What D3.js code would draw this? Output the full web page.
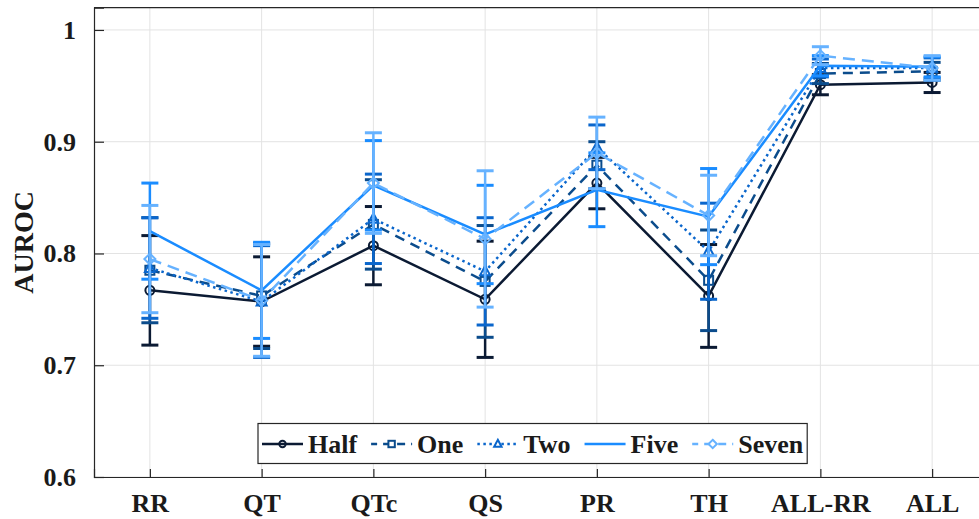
<!DOCTYPE html>
<html lang="en">

<head>
    <meta charset="UTF-8">
    <title>AUROC per feature</title>
    <script src="https://d3js.org/d3.v7.min.js"></script>
    <style>
        body {
            margin: 0;
            background: #fff;
        }

        text {
            font-family: "Liberation Serif", "Times New Roman", serif;
            font-weight: bold;
            fill: #1a1a1a;
        }
    </style>
</head>

<body>
    <div id="chart"></div>

    <script>
        const width = 979;
        const height = 519;
        const marginTop = 7.6;
        const marginBottom = 42;
        const marginLeft = 94;

        // data
        const categories = ["RR", "QT", "QTc", "QS", "PR", "TH", "ALL-RR", "ALL"];
        const yTicks = [0.6, 0.7, 0.8, 0.9, 1];
        const seriesNames = ["Half", "One", "Two", "Five", "Seven"];

        const halfMean = [0.767, 0.757, 0.807, 0.759, 0.863, 0.762, 0.951, 0.953];
        const halfErr = [0.049, 0.040, 0.035, 0.052, 0.023, 0.046, 0.009, 0.009];
        const oneMean = [0.785, 0.762, 0.826, 0.775, 0.879, 0.776, 0.961, 0.963];
        const oneErr = [0.047, 0.047, 0.040, 0.050, 0.021, 0.045, 0.009, 0.008];
        const twoMean = [0.787, 0.757, 0.831, 0.784, 0.895, 0.802, 0.966, 0.966];
        const twoErr = [0.045, 0.050, 0.040, 0.048, 0.020, 0.043, 0.008, 0.009];
        const fiveMean = [0.820, 0.767, 0.861, 0.817, 0.857, 0.833, 0.968, 0.967];
        const fiveErr = [0.043, 0.043, 0.040, 0.044, 0.033, 0.043, 0.009, 0.009];
        const sevenMean = [0.795, 0.758, 0.863, 0.813, 0.890, 0.834, 0.977, 0.966];
        const sevenErr = [0.048, 0.050, 0.045, 0.061, 0.032, 0.036, 0.008, 0.011];

        const series = [
            { name: seriesNames[0], mean: halfMean, err: halfErr, color: "#0b1a33", dash: null, marker: "circle" },
            { name: seriesNames[1], mean: oneMean, err: oneErr, color: "#0b4c8c", dash: "10,7", marker: "square" },
            { name: seriesNames[2], mean: twoMean, err: twoErr, color: "#0a66cc", dash: "2.5,3.5", marker: "triangle" },
            { name: seriesNames[3], mean: fiveMean, err: fiveErr, color: "#1a8cff", dash: null, marker: "none" },
            { name: seriesNames[4], mean: sevenMean, err: sevenErr, color: "#66b2ff", dash: "12,7", marker: "diamond" }
        ];

        const x = d3.scaleLinear()
            .domain([0.5, categories.length + 0.5])
            .range([marginLeft, 988]);

        const y = d3.scaleLinear()
            .domain([0.6, 1.02])
            .range([height - marginBottom, marginTop]);

        const svg = d3.select("#chart")
            .append("svg")
            .attr("width", width)
            .attr("height", height);

        // grid
        svg.append("g")
            .selectAll("line")
            .data(yTicks)
            .join("line")
            .attr("x1", x.range()[0]).attr("x2", x.range()[1])
            .attr("y1", d => y(d)).attr("y2", d => y(d))
            .attr("stroke", "#e3e3e3").attr("stroke-width", 1);

        svg.append("g")
            .selectAll("line")
            .data(categories)
            .join("line")
            .attr("x1", (d, i) => x(i + 1)).attr("x2", (d, i) => x(i + 1))
            .attr("y1", y.range()[0]).attr("y2", y.range()[1])
            .attr("stroke", "#e3e3e3").attr("stroke-width", 1);

        // axes
        const yAxis = d3.axisLeft(y)
            .tickValues(yTicks)
            .tickSize(-10)
            .tickPadding(18)
            .tickFormat(d => d === 1 ? "1" : d3.format(".1f")(d));

        const xAxis = d3.axisBottom(x)
            .tickValues(d3.range(1, categories.length + 1))
            .tickSize(-8)
            .tickPadding(17)
            .tickFormat(d => categories[d - 1]);

        const gx = svg.append("g")
            .attr("transform", `translate(0,${height - marginBottom})`)
            .call(xAxis);

        const gy = svg.append("g")
            .attr("transform", `translate(${marginLeft},0)`)
            .call(yAxis);

        [gx, gy].forEach(g => {
            g.select(".domain").attr("stroke", "#262626").attr("stroke-width", 1.2);
            g.selectAll(".tick line").attr("stroke", "#262626").attr("stroke-width", 1.2);
            g.selectAll(".tick text")
                .attr("font-size", 26)
                .attr("font-family", "Liberation Serif, serif")
                .attr("font-weight", "bold")
                .attr("fill", "#262626");
        });

        // top border
        svg.append("line")
            .attr("x1", marginLeft).attr("x2", width)
            .attr("y1", y.range()[1]).attr("y2", y.range()[1])
            .attr("stroke", "#262626").attr("stroke-width", 1.2);

        svg.append("text")
            .attr("transform", `translate(33,${(y(0.6) + y(1.02)) / 2}) rotate(-90)`)
            .attr("text-anchor", "middle")
            .attr("font-size", 28)
            .text("AUROC");

        function drawMarker(g, type, cx, cy, color, s, fill) {
            let el = null;
            if (type === "circle") {
                el = g.append("circle").attr("cx", cx).attr("cy", cy).attr("r", s);
            } else if (type === "square") {
                el = g.append("rect").attr("x", cx - s).attr("y", cy - s).attr("width", 2 * s).attr("height", 2 * s);
            } else if (type === "triangle") {
                el = g.append("path")
                    .attr("d", `M${cx},${cy - s - 1}L${cx + s + 0.5},${cy + s - 0.5}L${cx - s - 0.5},${cy + s - 0.5}Z`);
            } else if (type === "diamond") {
                el = g.append("path")
                    .attr("d", `M${cx},${cy - s - 1}L${cx + s + 1},${cy}L${cx},${cy + s + 1}L${cx - s - 1},${cy}Z`);
            }
            if (el) el.attr("fill", fill).attr("stroke", color).attr("stroke-width", 2);
        }

        const line = d3.line()
            .x((d, i) => x(i + 1))
            .y(d => y(d));

        const capHalf = 8.5;

        series.forEach(s => {
            const g = svg.append("g");
            g.append("path")
                .datum(s.mean)
                .attr("d", line)
                .attr("fill", "none")
                .attr("stroke", s.color)
                .attr("stroke-width", 2.5)
                .attr("stroke-dasharray", s.dash);

            s.mean.forEach((m, i) => {
                const cx = x(i + 1);
                const lo = y(m - s.err[i]);
                const hi = y(m + s.err[i]);
                g.append("line")
                    .attr("x1", cx).attr("x2", cx).attr("y1", lo).attr("y2", hi)
                    .attr("stroke", s.color).attr("stroke-width", 2.5);
                [lo, hi].forEach(yy => {
                    g.append("line")
                        .attr("x1", cx - capHalf).attr("x2", cx + capHalf)
                        .attr("y1", yy).attr("y2", yy)
                        .attr("stroke", s.color).attr("stroke-width", 3);
                });
                drawMarker(g, s.marker, cx, y(m), s.color, 4.5, "none");
            });
        });

        // legend
        const legend = svg.append("g");
        const legBox = legend.append("rect")
            .attr("x", 258).attr("y", 423.5)
            .attr("height", 40)
            .attr("fill", "#fff")
            .attr("stroke", "#262626")
            .attr("stroke-width", 1.2);

        let lx = 262;
        const ly = 444;
        series.forEach((s, k) => {
            const dotted = s.dash === "2.5,3.5";
            legend.append("line")
                .attr("x1", lx).attr("x2", lx + 41)
                .attr("y1", ly).attr("y2", ly)
                .attr("stroke", s.color)
                .attr("stroke-width", 2.5)
                .attr("stroke-dasharray", s.dash ? (dotted ? s.dash : "8,6") : null)
                .attr("stroke-dashoffset", s.dash && !dotted ? 2 : 0);
            if (s.marker !== "none") {
                drawMarker(legend.append("g"), s.marker, lx + 20.5, ly, s.color, 3.2,
                    s.marker === "circle" ? "none" : "#fff");
            }
            const t = legend.append("text")
                .attr("x", lx + 46)
                .attr("y", ly)
                .attr("dy", "0.35em")
                .attr("font-size", 26)
                .text(s.name);
            const w = t.node().getComputedTextLength();
            lx = lx + 46 + w + (k < series.length - 1 ? 14 : 4);
        });
        legBox.attr("width", lx - 258);
    </script>
</body>

</html>
